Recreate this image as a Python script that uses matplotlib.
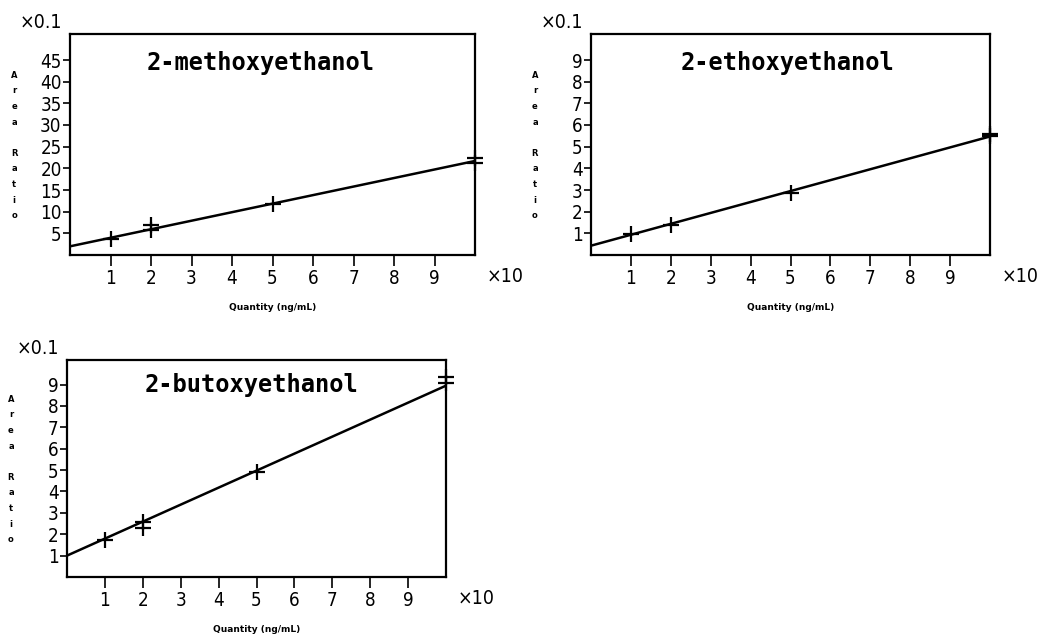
import matplotlib
matplotlib.use('Agg')
import matplotlib.pyplot as plt

# ---- data (as displayed: x in units of 10 ng/mL, y in units of 0.1) ----
compounds = ['2-methoxyethanol', '2-ethoxyethanol', '2-butoxyethanol']

meth_x = [1, 2, 2, 5, 10, 10]
meth_y = [3.7, 7.0, 5.8, 11.8, 22.5, 21.2]
meth_fit_x = [0, 10]
meth_fit_y = [2.0, 21.7]

eth_x = [1, 2, 5, 10, 10]
eth_y = [0.95, 1.38, 2.88, 5.5, 5.58]
eth_fit_x = [0, 10]
eth_fit_y = [0.43, 5.47]

but_x = [1, 2, 2, 5, 10, 10]
but_y = [1.74, 2.55, 2.29, 4.92, 9.34, 9.08]
but_fit_x = [0, 10]
but_fit_y = [1.0, 8.95]

x_ticks = [1, 2, 3, 4, 5, 6, 7, 8, 9]
meth_y_ticks = [5, 10, 15, 20, 25, 30, 35, 40, 45]
small_y_ticks = [1, 2, 3, 4, 5, 6, 7, 8, 9]

W, H = 1053, 638
MONO = ['DejaVu Sans Mono']

fig = plt.figure(figsize=(W / 100, H / 100), dpi=100)


def px_axes(left, top, right, bottom):
    """Add axes using pixel edges (top-left origin)."""
    return fig.add_axes([left / W, (H - bottom) / H,
                         (right - left) / W, (bottom - top) / H])


def narrow(t, size=13):
    t.set_family(['DejaVu Sans'])
    t.set_stretch('condensed')
    t.set_fontsize(size)


def draw_panel(box, x, y, fx, fy, yticks, ylim, title, title_pos):
    left, top, right, bottom = box
    ax = px_axes(left, top, right, bottom)
    ax.plot(fx, fy, color='black', lw=1.8, solid_capstyle='butt')
    ax.plot(x, y, ls='none', marker='+', ms=11, mew=1.6, color='black',
            clip_on=False)
    ax.set_xlim(0, 10)
    ax.set_ylim(*ylim)
    ax.set_xticks(x_ticks)
    ax.set_yticks(yticks)
    ax.tick_params(axis='both', direction='out', width=1.2, color='black')
    ax.tick_params(axis='x', length=8, pad=2)
    ax.tick_params(axis='y', length=5, pad=1)
    for lab in ax.get_xticklabels() + ax.get_yticklabels():
        narrow(lab, 13.5)
    for s in ax.spines.values():
        s.set_linewidth(1.6)
    ax.text(title_pos[0], title_pos[1], title, transform=ax.transAxes,
            family=MONO, fontweight='bold', fontsize=17, va='center', ha='left')

    # scale factors
    t = fig.text((left - 50) / W, (H - top + 12) / H, '\u00d70.1',
                 va='center', ha='left')
    narrow(t, 14)
    t = fig.text((right + 12) / W, (H - bottom - 22) / H, '\u00d710',
                 va='center', ha='left')
    narrow(t, 14)

    # stacked y label
    letters = list('Area') + [''] + list('Ratio')
    fig.text((left - 56) / W, (H - (top + bottom) / 2 - 1) / H,
             '\n'.join(letters), family='DejaVu Sans', fontweight='bold',
             fontsize=6, va='center', ha='center', linespacing=1.95)

    # x label
    fig.text(((left + right) / 2) / W, (H - bottom - 53) / H,
             'Quantity (ng/mL)', family='DejaVu Sans', fontweight='bold',
             fontsize=6.5, va='center', ha='center')
    return ax


draw_panel((70, 34, 475, 255), meth_x, meth_y, meth_fit_x, meth_fit_y,
           meth_y_ticks, (0, 51), compounds[0], (0.19, 0.87))
draw_panel((591, 34, 990, 255), eth_x, eth_y, eth_fit_x, eth_fit_y,
           small_y_ticks, (0, 10.2), compounds[1], (0.225, 0.87))
draw_panel((67, 360, 446, 577), but_x, but_y, but_fit_x, but_fit_y,
           small_y_ticks, (0, 10.15), compounds[2], (0.205, 0.885))

fig.savefig('out.png', dpi=100)
